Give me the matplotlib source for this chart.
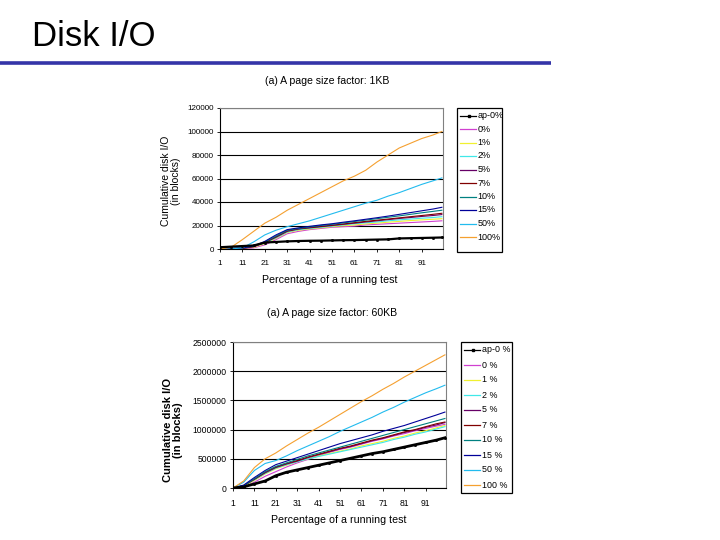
import matplotlib
matplotlib.use("Agg")
import matplotlib.pyplot as plt
from matplotlib.patches import Rectangle

plt.rcParams["font.family"] = ["Liberation Sans", "DejaVu Sans"]

# ---- data ----
x_pct = [1, 6, 11, 16, 21, 26, 31, 36, 41, 46, 51, 56, 61, 66, 71, 76, 81, 86, 91, 96, 100]

labels_1kb = ["ap-0%", "0%", "1%", "2%", "5%", "7%", "10%", "15%", "50%", "100%"]
labels_60kb = ["ap-0 %", "0 %", "1 %", "2 %", "5 %", "7 %", "10 %", "15 %", "50 %", "100 %"]
colors = ["#000000", "#D040D0", "#F0F030", "#40E8E8", "#660066",
          "#800000", "#008080", "#000099", "#22BBEE", "#F5A030"]

# (a) 1KB page size factor, cumulative disk I/O in blocks
io_1kb = {
    "ap-0%": [1500, 2000, 2500, 3000, 5500, 6000, 6500, 6800, 7000, 7100, 7300,
              7500, 7600, 7800, 8000, 8200, 9000, 9200, 9400, 9600, 9800],
    "0%":    [0, 0, 0, 1000, 3500, 8000, 13000, 15000, 16500, 17500, 18500,
              19000, 19500, 20500, 21000, 21500, 22000, 22500, 23000, 23500, 24000],
    "1%":    [0, 0, 500, 1500, 4500, 9000, 14000, 16000, 17000, 18000, 19000,
              19800, 20500, 21300, 22000, 22800, 23500, 24200, 24800, 25300, 25800],
    "2%":    [0, 0, 500, 2000, 5000, 9500, 14500, 16500, 17500, 18500, 19500,
              20500, 21500, 22300, 23000, 24000, 24800, 25500, 26200, 26800, 27500],
    "5%":    [0, 300, 500, 2000, 5500, 10000, 15000, 17000, 18000, 19000, 20000,
              21000, 22000, 23000, 24000, 25000, 26000, 26800, 27700, 28500, 29300],
    "7%":    [0, 300, 600, 2000, 5500, 10500, 15500, 17200, 18300, 19300, 20300,
              21300, 22400, 23500, 24500, 25500, 26500, 27500, 28500, 29500, 30400],
    "10%":   [0, 500, 1000, 2500, 6000, 11000, 16000, 17500, 18800, 20000, 21000,
              22200, 23400, 24600, 25800, 27000, 28200, 29500, 30800, 32000, 33000],
    "15%":   [0, 500, 1000, 2500, 6500, 12000, 16500, 18000, 19300, 20500, 21500,
              22800, 24000, 25300, 26600, 28000, 29500, 31000, 32500, 34000, 35500],
    "50%":   [0, 0, 1000, 6000, 12000, 16000, 19000, 21500, 24000, 27000, 30000,
              33000, 36000, 39000, 41500, 45000, 48000, 51500, 55000, 58000, 60500],
    "100%":  [0, 1500, 8000, 15000, 22000, 27000, 33000, 38000, 43000, 48000, 53000,
              58000, 62000, 67000, 74000, 80000, 86000, 90000, 94000, 97000, 100000],
}

# (a) 60KB page size factor
io_60kb = {
    "ap-0%": [0, 20000, 70000, 120000, 210000, 270000, 310000, 350000, 390000, 430000, 470000,
              510000, 550000, 590000, 620000, 660000, 700000, 740000, 780000, 820000, 860000],
    "0%":    [0, 20000, 100000, 200000, 280000, 360000, 430000, 490000, 550000, 610000, 660000,
              700000, 750000, 800000, 840000, 890000, 930000, 980000, 1020000, 1060000, 1090000],
    "1%":    [0, 30000, 130000, 240000, 330000, 390000, 450000, 500000, 550000, 590000, 630000,
              670000, 720000, 760000, 800000, 850000, 890000, 940000, 980000, 1030000, 1070000],
    "2%":    [0, 40000, 140000, 250000, 340000, 400000, 450000, 500000, 540000, 580000, 620000,
              660000, 700000, 740000, 780000, 830000, 870000, 920000, 960000, 1010000, 1050000],
    "5%":    [0, 40000, 150000, 260000, 350000, 410000, 460000, 520000, 570000, 620000, 670000,
              710000, 760000, 810000, 850000, 900000, 950000, 990000, 1040000, 1080000, 1120000],
    "7%":    [0, 40000, 150000, 270000, 360000, 420000, 470000, 530000, 580000, 630000, 680000,
              720000, 770000, 820000, 860000, 910000, 960000, 1000000, 1050000, 1100000, 1130000],
    "10%":   [0, 40000, 160000, 280000, 370000, 430000, 490000, 550000, 600000, 650000, 700000,
              750000, 800000, 850000, 900000, 950000, 1000000, 1050000, 1100000, 1150000, 1190000],
    "15%":   [0, 50000, 180000, 300000, 400000, 460000, 520000, 580000, 640000, 700000, 760000,
              810000, 860000, 910000, 970000, 1020000, 1070000, 1130000, 1190000, 1250000, 1300000],
    "50%":   [0, 100000, 300000, 420000, 470000, 550000, 640000, 720000, 800000, 880000, 970000,
              1050000, 1130000, 1210000, 1300000, 1380000, 1470000, 1550000, 1630000, 1700000, 1760000],
    "100%":  [0, 120000, 350000, 500000, 600000, 720000, 830000, 940000, 1040000, 1150000, 1260000,
              1370000, 1480000, 1580000, 1690000, 1790000, 1900000, 2000000, 2100000, 2200000, 2280000],
}

W, H = 720, 540


def px_rect(left, top, right, bottom):
    # pixel box -> figure fraction rect
    return [left / W, 1 - bottom / H, (right - left) / W, (bottom - top) / H]


def panel(fig, rect, data, ymax, ystep, fs, black_lw):
    ax = fig.add_axes(rect)
    keys = list(data.keys())
    for key, col in zip(keys[1:], colors[1:]):
        ax.plot(x_pct, data[key], color=col, lw=0.8)
    ax.plot(x_pct, data[keys[0]], color="black", lw=black_lw, marker="s", ms=1.0, zorder=5)
    ax.set_xlim(1, 100.5)
    ax.set_ylim(0, ymax)
    ax.set_yticks(range(0, ymax + 1, ystep))
    ax.set_yticklabels([str(v) for v in range(0, ymax + 1, ystep)])
    ax.set_xticks(range(1, 100, 10))
    ax.yaxis.grid(True, color="black", lw=0.8)
    ax.set_axisbelow(True)
    ax.tick_params(labelsize=fs, length=2, width=0.6, pad=2.5, colors="black")
    ax.tick_params(axis="x", pad=6)
    for s in ("left", "bottom"):
        ax.spines[s].set_color("black")
        ax.spines[s].set_linewidth(0.8)
    for s in ("top", "right"):
        ax.spines[s].set_color("#808080")
        ax.spines[s].set_linewidth(0.8)
    return ax


def legend_box(ov, box, labels, first_y, step, fs):
    x0, y0, x1, y1 = box
    ov.add_patch(Rectangle((x0, y0), x1 - x0, y1 - y0, fill=False, edgecolor="black", lw=0.9))
    for i, (lab, col) in enumerate(zip(labels, colors)):
        y = first_y + i * step
        ov.plot([x0 + 3, x0 + 19], [y, y], color=col, lw=0.9)
        if i == 0:
            ov.plot([x0 + 12], [y], color=col, marker="s", ms=1.6)
        ov.text(x0 + 20.5, y, lab, fontsize=fs, va="center", ha="left")


def main():
    fig = plt.figure(figsize=(7.2, 5.4), dpi=100)

    panel(fig, px_rect(220, 108, 443, 249), io_1kb, 120000, 20000, 5.8, 1.6)
    panel(fig, px_rect(233, 342, 446, 488), io_60kb, 2500000, 500000, 6.2, 2.0)

    # overlay in pixel coordinates for slide title, captions and legends
    ov = fig.add_axes([0, 0, 1, 1], zorder=10)
    ov.set_xlim(0, W); ov.set_ylim(H, 0); ov.axis("off")
    ov.patch.set_alpha(0)

    ov.text(32, 36, "Disk I/O", fontsize=25, va="center", ha="left")
    ov.plot([0, 551], [62.8, 62.8], color="#3434A8", lw=2.6, solid_capstyle="butt")

    # 1KB panel texts
    ov.text(327, 81, "(a) A page size factor: 1KB", fontsize=7.6, ha="center", va="center")
    ov.text(330, 280, "Percentage of a running test", fontsize=7.7, ha="center", va="center")
    ov.text(171, 181, "Cumulative disk I/O\n(in blocks)", fontsize=7.5, rotation=90,
            ha="center", va="center", multialignment="center", linespacing=1.1)
    legend_box(ov, (457, 108, 502, 252), labels_1kb, 115.5, 13.5, 6.5)

    # 60KB panel texts
    ov.text(332, 313, "(a) A page size factor: 60KB", fontsize=7.6, ha="center", va="center")
    ov.text(339, 520, "Percentage of a running test", fontsize=7.7, ha="center", va="center")
    ov.text(173, 430, "Cumulative disk I/O\n(in blocks)", fontsize=8, rotation=90,
            weight="bold", ha="center", va="center", multialignment="center", linespacing=1.1)
    legend_box(ov, (461, 342, 512, 493), labels_60kb, 350, 15, 6.4)

    fig.savefig("out.png", dpi=100)


if __name__ == "__main__":
    main()
